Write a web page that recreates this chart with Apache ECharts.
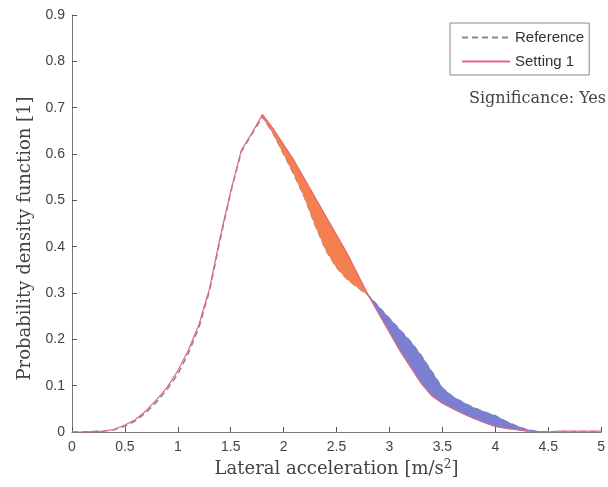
<!DOCTYPE html>
<html><head><meta charset="utf-8">
<script src="https://cdn.jsdelivr.net/npm/echarts@6/dist/echarts.min.js"></script>
<style>html,body{margin:0;padding:0;background:#fff}#c{width:608px;height:487px}</style>
</head><body><div id="c"></div><script>
const xs = [0,0.1,0.2,0.3,0.4,0.5,0.6,0.7,0.8,0.9,1.0,1.1,1.2,1.3,1.4,1.5,1.6,1.7,1.8,1.9,2.0,2.1,2.2,2.3,2.4,2.5,2.6,2.7,2.8,2.9,3.0,3.1,3.2,3.3,3.4,3.5,3.6,3.7,3.8,3.9,4.0,4.1,4.2,4.3,4.4,4.5,4.6,4.7,4.8,4.9,5.0];
const reference = [0,0,0.001,0.002,0.005,0.013,0.024,0.042,0.065,0.092,0.125,0.17,0.226,0.305,0.415,0.518,0.605,0.643,0.68,0.645,0.6,0.555,0.505,0.445,0.392,0.355,0.33,0.312,0.295,0.27,0.245,0.22,0.195,0.165,0.13,0.095,0.076,0.063,0.052,0.043,0.035,0.023,0.013,0.005,0.001,0,0,0,0,0,0];
const setting1 = [0,0,0.001,0.002,0.006,0.015,0.027,0.046,0.07,0.097,0.132,0.177,0.232,0.31,0.42,0.52,0.608,0.645,0.685,0.655,0.62,0.585,0.545,0.505,0.465,0.425,0.385,0.34,0.295,0.255,0.215,0.175,0.14,0.105,0.078,0.062,0.05,0.039,0.029,0.02,0.012,0.008,0.005,0.002,0.001,0,0.002,0.002,0.002,0.002,0.002];
const orangeRange = [1.8, 2.8];
const blueRange = [2.8, 4.5];

const inR = (x, r) => x >= r[0] - 1e-9 && x <= r[1] + 1e-9;
function bandRender(color) {
  return function (params, api) {
    const r = [api.value(0), api.value(1)];
    const upper = [], lower = [];
    for (let i = 0; i < xs.length; i++) {
      if (!inR(xs[i], r)) continue;
      upper.push(api.coord([xs[i], Math.max(reference[i], setting1[i])]));
      lower.push(api.coord([xs[i], Math.min(reference[i], setting1[i])]));
    }
    return {type: 'polygon', shape: {points: upper.concat(lower.reverse())},
      style: {fill: color, stroke: color, lineWidth: 0.8}};
  };
}

const serif = '"DejaVu Serif", "Liberation Serif", serif';
const chart = echarts.init(document.getElementById('c'));
chart.setOption({
  animation: false,
  backgroundColor: '#fff',
  grid: {left: 72, right: 6, top: 15, bottom: 55, containLabel: false},
  xAxis: {
    type: 'value', min: 0, max: 5, interval: 0.5,
    axisLine: {lineStyle: {color: '#777', width: 1}},
    axisTick: {inside: true, length: 5, lineStyle: {color: '#555'}},
    axisLabel: {color: '#444', fontSize: 14, fontFamily: 'Liberation Sans, Arial, sans-serif', margin: 8},
    splitLine: {show: false},
    name: 'Lateral acceleration [m/s{sup|2}]',
    nameLocation: 'middle', nameGap: 25,
    nameTextStyle: {color: '#444', fontSize: 18, fontFamily: serif,
      rich: {sup: {fontSize: 12, verticalAlign: 'top', padding: [0,0,9,0], color: '#444', fontFamily: serif}}}
  },
  yAxis: {
    type: 'value', min: 0, max: 0.9, interval: 0.1,
    axisLine: {show: true, lineStyle: {color: '#777', width: 1}},
    axisTick: {show: true, inside: true, length: 5, lineStyle: {color: '#555'}},
    axisLabel: {color: '#444', fontSize: 14, fontFamily: 'Liberation Sans, Arial, sans-serif', margin: 7},
    splitLine: {show: false},
    name: 'Probability density function [1]',
    nameLocation: 'middle', nameGap: 38,
    nameTextStyle: {color: '#444', fontSize: 18, fontFamily: serif, padding: [0, 30, 0, 0]}
  },
  legend: {
    orient: 'vertical', left: 450, top: 23,
    padding: [7, 5, 6, 11], itemGap: 9, itemWidth: 48, itemHeight: 14,
    borderColor: '#888', borderWidth: 1,
    textStyle: {color: '#333', fontSize: 15, fontFamily: 'Liberation Sans, Arial, sans-serif'},
    data: [{name: 'Reference', itemStyle: {opacity: 0}}, {name: 'Setting 1', itemStyle: {opacity: 0}}]
  },
  graphic: [{
    type: 'text', right: 2, top: 91, z: 100,
    style: {text: 'Significance: Yes', fill: '#444', fontSize: 16, fontFamily: serif}
  }],
  series: [
    {name: 'Reference', type: 'line', data: xs.map((x, i) => [x, reference[i]]), symbol: 'none',
      lineStyle: {color: '#888', width: 1.5, type: [6, 4]}, itemStyle: {color: '#888'}, z: 2},
    {name: 'ofill', type: 'custom', data: [orangeRange], renderItem: bandRender('#F4804F'),
      silent: true, z: 3, encode: {x: [0, 1]}},
    {name: 'bfill', type: 'custom', data: [blueRange], renderItem: bandRender('#7A7FD2'),
      silent: true, z: 3, encode: {x: [0, 1]}},
    {name: 'Setting 1', type: 'line', data: xs.map((x, i) => [x, setting1[i]]), symbol: 'none',
      lineStyle: {color: '#E2667F', width: 1.2}, itemStyle: {color: '#E2667F'}, z: 4}
  ]
});
</script></body></html>
